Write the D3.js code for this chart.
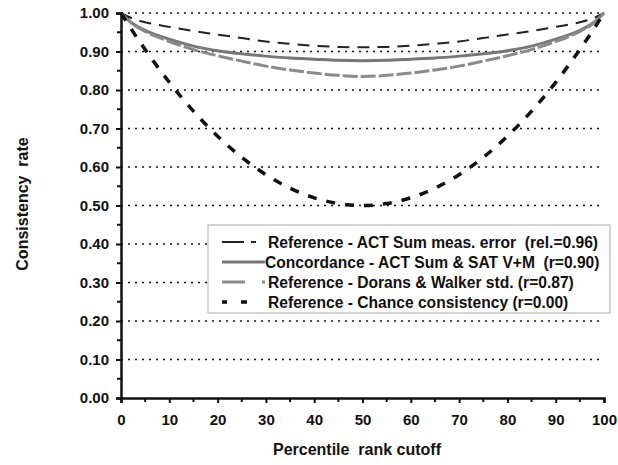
<!DOCTYPE html>
<html>
<head>
<meta charset="utf-8">
<script src="https://cdn.jsdelivr.net/npm/d3@7"></script>
<style>
  body { margin: 0; background: #fff; }
  text { font-family: Arial, "Liberation Sans", sans-serif; font-weight: bold; white-space: pre; }
</style>
</head>
<body>
<div id="chart"></div>
<script>
// percentile cutoffs and consistency rates
var cutoffs = [0, 2.5, 5, 10, 15, 20, 25, 30, 35, 40, 45, 50, 55, 60, 65, 70, 75, 80, 85, 90, 95, 97.5, 100];
var actMeasError = [1.0, 0.985, 0.976, 0.964, 0.953, 0.944, 0.935, 0.926, 0.920, 0.915, 0.912, 0.911, 0.912, 0.915, 0.920, 0.926, 0.935, 0.944, 0.953, 0.964, 0.976, 0.985, 1.0];
var concordance = [1.0, 0.972, 0.955, 0.932, 0.914, 0.902, 0.894, 0.888, 0.883, 0.880, 0.877, 0.876, 0.877, 0.880, 0.883, 0.888, 0.894, 0.902, 0.914, 0.932, 0.955, 0.972, 1.0];
var doransWalker = [1.0, 0.970, 0.952, 0.926, 0.905, 0.889, 0.875, 0.862, 0.852, 0.844, 0.838, 0.835, 0.838, 0.844, 0.852, 0.862, 0.875, 0.889, 0.905, 0.926, 0.952, 0.970, 1.0];
var chance = [1.0, 0.951, 0.905, 0.82, 0.745, 0.68, 0.625, 0.58, 0.545, 0.52, 0.505, 0.50, 0.505, 0.52, 0.545, 0.58, 0.625, 0.68, 0.745, 0.82, 0.905, 0.951, 1.0];

var legendLabels = [
  "Reference - ACT Sum meas. error  (rel.=0.96)",
  "Concordance - ACT Sum & SAT V+M  (r=0.90)",
  "Reference - Dorans & Walker std. (r=0.87)",
  "Reference - Chance consistency (r=0.00)"
];
var yTicks = [0, 0.1, 0.2, 0.3, 0.4, 0.5, 0.6, 0.7, 0.8, 0.9, 1.0];
var xTicks = [0, 10, 20, 30, 40, 50, 60, 70, 80, 90, 100];

var svgWidth = 618;
var svgHeight = 465;
var margin = {top: 13, right: 14, bottom: 67, left: 121};
var width = svgWidth - margin.left - margin.right;
var height = svgHeight - margin.top - margin.bottom;

var svg = d3.select("#chart")
  .append("svg")
  .attr("width", svgWidth)
  .attr("height", svgHeight);
var chartGroup = svg.append("g")
  .attr("transform", `translate(${margin.left}, ${margin.top})`);

// scales
var xScale = d3.scaleLinear().domain([0, 100]).range([0, width]);
var yScale = d3.scaleLinear().domain([0, 1]).range([height, 0]);

// dotted gridlines
chartGroup.selectAll("line.grid")
  .data(yTicks.filter(d => d > 0))
  .enter()
  .append("line")
  .attr("class", "grid")
  .attr("x1", 0)
  .attr("x2", width)
  .attr("y1", d => yScale(d))
  .attr("y2", d => yScale(d))
  .attr("stroke", "#111")
  .attr("stroke-width", 1.5)
  .attr("stroke-dasharray", "2,5");

// series
var series = [
  {name: legendLabels[0], values: actMeasError, color: "#222", width: 2, dash: "12,8"},
  {name: legendLabels[1], values: concordance, color: "#777", width: 3, dash: null},
  {name: legendLabels[2], values: doransWalker, color: "#8a8a8a", width: 3, dash: "15,3"},
  {name: legendLabels[3], values: chance, color: "#111", width: 3.5, dash: "9,10"}
];

var line = d3.line()
  .x((d, i) => xScale(cutoffs[i]))
  .y(d => yScale(d))
  .curve(d3.curveMonotoneX);

chartGroup.selectAll("path.series")
  .data(series)
  .enter()
  .append("path")
  .attr("class", "series")
  .attr("fill", "none")
  .attr("stroke", d => d.color)
  .attr("stroke-width", d => d.width)
  .attr("stroke-dasharray", d => d.dash)
  .attr("d", d => line(d.values));

// axes
var xAxis = d3.axisBottom(xScale).tickValues(xTicks).tickSize(5).tickPadding(11);
var yAxis = d3.axisLeft(yScale).tickValues(yTicks).tickSize(5).tickPadding(7).tickFormat(d3.format(".2f"));

var gx = chartGroup.append("g")
  .attr("transform", `translate(0, ${height})`)
  .call(xAxis);
var gy = chartGroup.append("g")
  .call(yAxis);

// minor ticks
gx.selectAll("line.minor")
  .data(d3.range(5, 100, 10))
  .enter()
  .append("line")
  .attr("class", "minor")
  .attr("x1", d => xScale(d))
  .attr("x2", d => xScale(d))
  .attr("y1", 0)
  .attr("y2", 4)
  .attr("stroke", "#111")
  .attr("stroke-width", 2);
gy.selectAll("line.minor")
  .data(d3.range(0.05, 1, 0.1))
  .enter()
  .append("line")
  .attr("class", "minor")
  .attr("y1", d => yScale(d))
  .attr("y2", d => yScale(d))
  .attr("x1", 0)
  .attr("x2", -4)
  .attr("stroke", "#111")
  .attr("stroke-width", 2);

[gx, gy].forEach(function(g) {
  g.select(".domain").attr("stroke", "#111").attr("stroke-width", 2.5);
  g.selectAll(".tick line").attr("stroke", "#111").attr("stroke-width", 2);
  g.selectAll(".tick text")
    .attr("font-family", "Arial, 'Liberation Sans', sans-serif")
    .attr("font-weight", "bold")
    .attr("font-size", "15px")
    .attr("fill", "#111");
});

// legend
var legend = chartGroup.append("g")
  .attr("transform", `translate(${208 - margin.left}, ${225 - margin.top})`);
legend.append("rect")
  .attr("x", 0)
  .attr("y", 0)
  .attr("width", 402)
  .attr("height", 88)
  .attr("fill", "#fff")
  .attr("stroke", "#aaa")
  .attr("stroke-width", 1);

var legendDash = ["22,7,5,40", null, "23,17,3,40", "5,14,6,40"];
var legendRows = legend.selectAll("g.row")
  .data(series)
  .enter()
  .append("g")
  .attr("class", "row")
  .attr("transform", (d, i) => `translate(0, ${17 + i * 20})`);
legendRows.append("line")
  .attr("x1", 14)
  .attr("x2", 57)
  .attr("y1", 0)
  .attr("y2", 0)
  .attr("stroke", d => d.color)
  .attr("stroke-width", d => d.width)
  .attr("stroke-dasharray", (d, i) => legendDash[i]);
legendRows.append("text")
  .attr("x", (d, i) => i === 1 ? 57 : 60)
  .attr("y", 5.5)
  .attr("font-size", "15.6px")
  .attr("fill", "#111")
  .text(d => d.name);

// axes labels
chartGroup.append("text")
  .attr("transform", `translate(${28 - margin.left}, ${204 - margin.top}) rotate(-90)`)
  .attr("text-anchor", "middle")
  .attr("font-size", "16px")
  .attr("fill", "#111")
  .text("Consistency  rate");
chartGroup.append("text")
  .attr("x", 357 - margin.left)
  .attr("y", 455 - margin.top)
  .attr("text-anchor", "middle")
  .attr("font-size", "16px")
  .attr("fill", "#111")
  .text("Percentile  rank cutoff");
</script>
</body>
</html>
